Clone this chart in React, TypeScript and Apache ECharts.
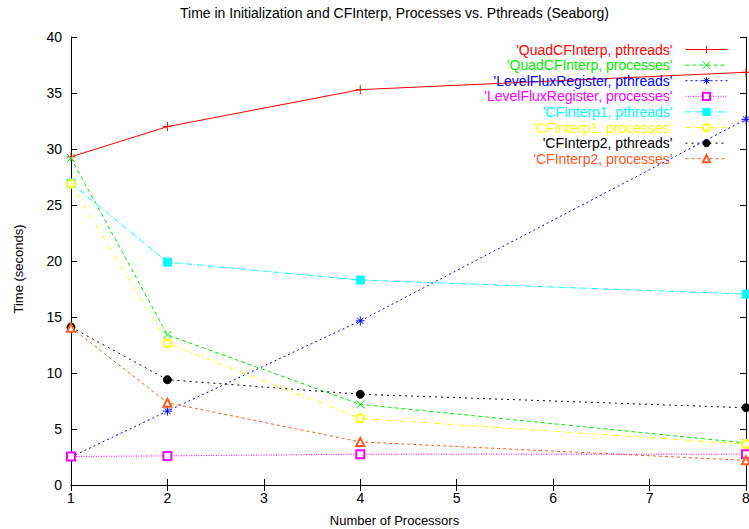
import React, { useEffect, useRef } from "react";
import * as echarts from "echarts";

const processors = [1, 2, 4, 8];
const xTicks = [1, 2, 3, 4, 5, 6, 7, 8];
const seriesNames = [
  "'QuadCFInterp, pthreads'",
  "'QuadCFInterp, processes'",
  "'LevelFluxRegister, pthreads'",
  "'LevelFluxRegister, processes'",
  "'CFInterp1, pthreads'",
  "'CFInterp1, processes'",
  "'CFInterp2, pthreads'",
  "'CFInterp2, processes'",
];
const quadPthreads = [29.3, 32.0, 35.3, 36.85];
const quadProcesses = [29.2, 13.4, 7.2, 3.75];
const lfrPthreads = [2.5, 6.6, 14.65, 32.65];
const lfrProcesses = [2.55, 2.6, 2.75, 2.75];
const cf1Pthreads = [26.95, 19.9, 18.3, 17.05];
const cf1Processes = [26.9, 12.65, 5.95, 3.65];
const cf2Pthreads = [14.1, 9.4, 8.1, 6.9];
const cf2Processes = [14.05, 7.35, 3.85, 2.2];

const allValues = [
  quadPthreads,
  quadProcesses,
  lfrPthreads,
  lfrProcesses,
  cf1Pthreads,
  cf1Processes,
  cf2Pthreads,
  cf2Processes,
];

const FONT = "'Liberation Sans', Arial, Helvetica, sans-serif";

const styles = [
  { color: "#ff0000", dash: "solid" as any, symbol: "path://M0,5L10,5M5,0L5,10", size: 9 },
  { color: "#00ee00", dash: [4, 3], symbol: "path://M0,0L10,10M10,0L0,10", size: 8 },
  { color: "#0000ff", dash: [2, 3], symbol: "path://M0,5L10,5M5,0L5,10M1.5,1.5L8.5,8.5M8.5,1.5L1.5,8.5", size: 9 },
  { color: "#ff00ff", dash: [1, 1.5], symbol: "emptyRect", size: 8 },
  { color: "#00ffff", dash: [6, 2, 1, 2], symbol: "rect", size: 8 },
  { color: "#ffff00", dash: [5, 3, 1, 3], symbol: "emptyCircle", size: 8 },
  { color: "#000000", dash: [2, 4], symbol: "circle", size: 8 },
  { color: "#ff5a1e", dash: [3, 3], symbol: "emptyTriangle", size: 8 },
];

const legendRows = [49.5, 65.1, 80.7, 96.3, 111.9, 127.5, 143.1, 158.7];

export default function App() {
  const ref = useRef<HTMLDivElement>(null);
  useEffect(() => {
    if (!ref.current) return;
    const chart = echarts.init(ref.current, null, { renderer: "svg" });
    const series = seriesNames.map((name, i) => ({
      name,
      type: "line",
      data: processors.map((x, j) => [x, allValues[i][j]]),
      symbol: styles[i].symbol,
      symbolSize: styles[i].size,
      showSymbol: true,
      lineStyle: { color: styles[i].color, width: 1, type: styles[i].dash },
      itemStyle: { color: styles[i].color, borderColor: styles[i].color, borderWidth: 1 },
      emphasis: { disabled: true },
      z: 2 + i,
    }));
    const legends = seriesNames.map((name, i) => ({
      data: [name],
      right: 21,
      top: legendRows[i] - 7,
      orient: "horizontal",
      align: "right",
      itemWidth: 42,
      itemHeight: 9,
      padding: 0,
      selectedMode: false,
      itemStyle: { borderWidth: 1 },
      lineStyle: { width: 1 },
      textStyle: {
        color: styles[i].color,
        fontSize: 14,
        lineHeight: 14,
        fontFamily: FONT,
        padding: [0, 8, 0, 0],
      },
    }));
    const axisLine = { show: true, lineStyle: { color: "#000", width: 1 } };
    chart.setOption({
      animation: false,
      backgroundColor: "#fff",
      title: {
        text: "Time in Initialization and CFInterp, Processes vs. Pthreads (Seaborg)",
        left: 180,
        top: 6,
        padding: 0,
        textStyle: { fontSize: 14, fontWeight: "normal", color: "#000", fontFamily: FONT },
      },
      legend: legends,
      grid: { left: 71, right: 3, top: 37, bottom: 44, containLabel: false, outerBoundsMode: "none" },
      xAxis: [
        {
          type: "value",
          min: 1,
          max: 8,
          interval: 1,
          name: "Number of Processors",
          nameLocation: "middle",
          nameGap: 29,
          nameTextStyle: { fontSize: 13, color: "#000", fontFamily: FONT, padding: [0, 28, 0, 0] },
          axisLine,
          axisTick: { show: true, inside: true, length: 6, lineStyle: { color: "#000" } },
          axisLabel: {
            color: "#000",
            fontSize: 14,
            fontFamily: FONT,
            margin: 6,
            formatter: (v: number) => (xTicks.includes(v) ? String(v) : ""),
          },
          splitLine: { show: false },
        },
        {
          type: "value",
          position: "top",
          min: 1,
          max: 8,
          interval: 1,
          axisLine,
          axisTick: { show: true, inside: true, length: 6, lineStyle: { color: "#000" } },
          axisLabel: { show: false },
          splitLine: { show: false },
        },
      ],
      yAxis: [
        {
          type: "value",
          min: 0,
          max: 40,
          interval: 5,
          name: "Time (seconds)",
          nameLocation: "middle",
          nameGap: 46,
          nameTextStyle: { fontSize: 13, color: "#000", fontFamily: FONT, padding: [0, 16, 0, 0] },
          axisLine,
          axisTick: { show: true, inside: true, length: 6, lineStyle: { color: "#000" } },
          axisLabel: { color: "#000", fontSize: 14, fontFamily: FONT, margin: 9 },
          splitLine: { show: false },
        },
        {
          type: "value",
          position: "right",
          min: 0,
          max: 40,
          interval: 5,
          axisLine,
          axisTick: { show: true, inside: true, length: 6, lineStyle: { color: "#000" } },
          axisLabel: { show: false },
          splitLine: { show: false },
        },
      ],
      series,
    });
    return () => chart.dispose();
  }, []);
  return (
    <div
      ref={ref}
      style={{ position: "fixed", left: 0, top: 0, width: 749, height: 529 }}
    />
  );
}
